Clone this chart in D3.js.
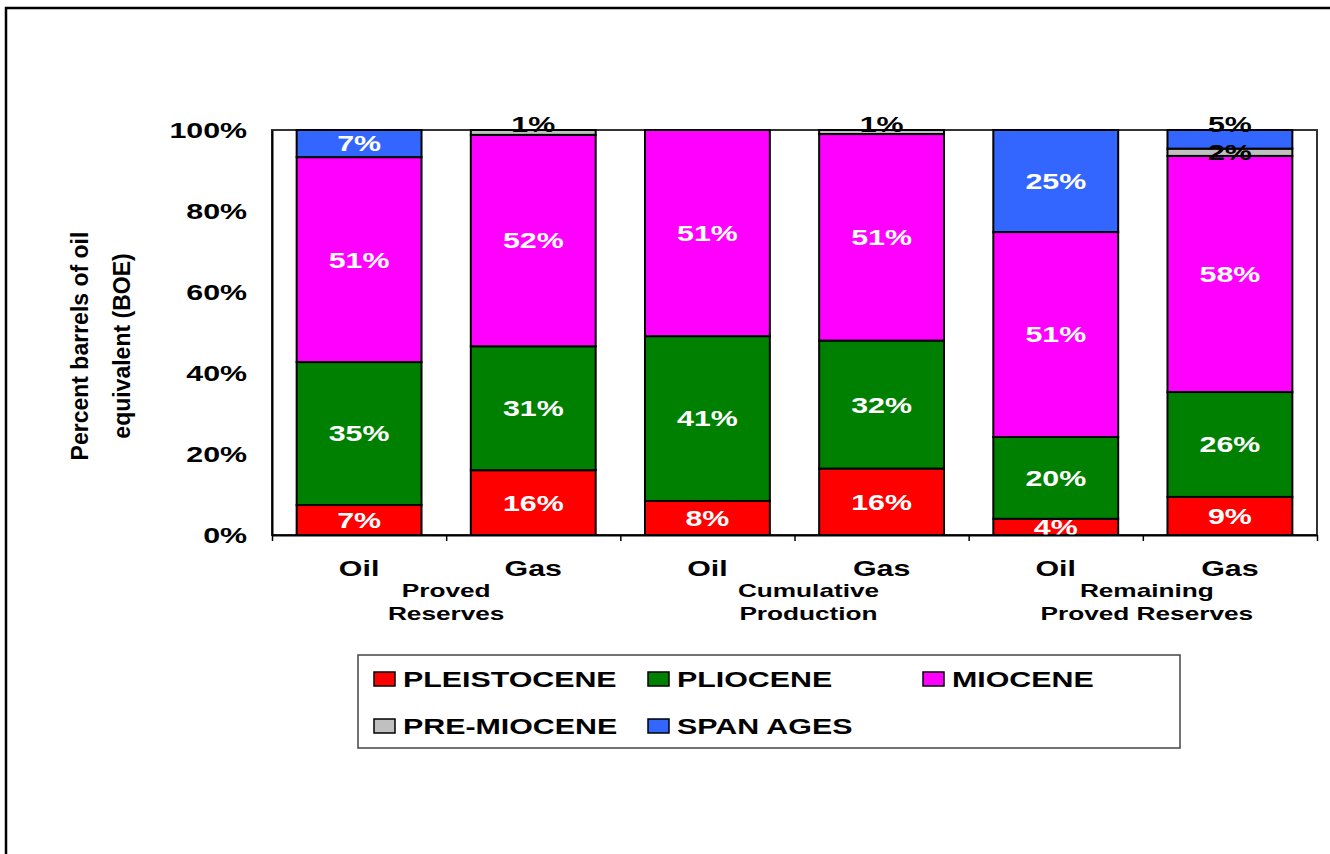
<!DOCTYPE html>
<html>
<head>
<meta charset="utf-8">
<script src="https://cdn.jsdelivr.net/npm/d3@7/dist/d3.min.js"></script>
<style>
  html, body { margin: 0; padding: 0; background: #fff; }
  svg { display: block; font-family: "Liberation Sans", Arial, sans-serif; }
</style>
</head>
<body>
<svg id="chart" width="1330" height="854"></svg>
<script>
// ---- data ----
const categories = ["Oil", "Gas", "Oil", "Gas", "Oil", "Gas"];
const groups = [["Proved", "Reserves"], ["Cumulative", "Production"], ["Remaining", "Proved Reserves"]];
const seriesNames = ["PLEISTOCENE", "PLIOCENE", "MIOCENE", "PRE-MIOCENE", "SPAN AGES"];
const pleistocene = [7.4, 16.0, 8.4, 16.4, 4.0, 9.4];
const pliocene    = [35.3, 30.6, 40.7, 31.6, 20.2, 25.9];
const miocene     = [50.6, 52.2, 50.9, 51.0, 50.6, 58.3];
const preMiocene  = [0, 1.2, 0, 1.0, 0, 1.8];
const spanAges    = [6.7, 0, 0, 0, 25.2, 4.6];
const yTicks = [0, 20, 40, 60, 80, 100];

const seriesValues = [pleistocene, pliocene, miocene, preMiocene, spanAges];
const colors = ["#FF0000", "#008000", "#FF00FF", "#C0C0C0", "#3366FF"];

// ---- layout ----
const SX = 1.38; // horizontal text stretch seen in the reference
const plot = { left: 272, right: 1317, top: 130, bottom: 535 };
const groupNudge = [0, 14, 4];
const svg = d3.select("#chart");

// outer frame
svg.append("rect").attr("x", 6).attr("y", 8).attr("width", 1340).attr("height", 870)
  .attr("fill", "none").attr("stroke", "#000").attr("stroke-width", 2.5);

const idx = d3.range(categories.length);
const x = d3.scaleBand().domain(idx).range([plot.left, plot.right])
  .paddingInner(0.283).paddingOuter(0.1415);
const xb = d3.scaleLinear().domain([0, categories.length]).range([plot.left, plot.right]);
const y = d3.scaleLinear().domain([0, 100]).range([plot.bottom, plot.top]);

// plot area border
svg.append("rect").attr("x", plot.left).attr("y", plot.top)
  .attr("width", plot.right - plot.left).attr("height", plot.bottom - plot.top)
  .attr("fill", "#fff").attr("stroke", "#333").attr("stroke-width", 2);

// stack
const rows = idx.map(i => {
  const o = { i };
  seriesNames.forEach((s, k) => o[s] = seriesValues[k][i]);
  return o;
});
const stacked = d3.stack().keys(seriesNames)(rows);

const barG = svg.append("g");
stacked.forEach((layer, k) => {
  barG.selectAll(null).data(layer.filter(d => d[1] - d[0] > 0)).enter()
    .append("rect")
    .attr("x", d => x(d.data.i))
    .attr("width", x.bandwidth())
    .attr("y", d => y(d[1]))
    .attr("height", d => y(d[0]) - y(d[1]))
    .attr("fill", colors[k])
    .attr("stroke", "#000").attr("stroke-width", 2);
});

// value labels
const labG = svg.append("g").attr("font-weight", "bold").attr("font-size", 22);
idx.forEach(i => {
  const segs = [];
  stacked.forEach((layer, k) => {
    const d = layer[i];
    if (d[1] - d[0] > 0) segs.push({ k, d, v: d[1] - d[0] });
  });
  segs.forEach((s, j) => {
    const top = j === segs.length - 1;
    const small = s.v <= 5 && s.k >= 3;
    const cx = x(i) + x.bandwidth() / 2;
    let cy, dy;
    if (small && top) { cy = y(s.d[1]) + 2; dy = "0"; }
    else { cy = (y(s.d[0]) + y(s.d[1])) / 2; dy = "0.36em"; }
    labG.append("text")
      .attr("transform", `translate(${cx},${cy}) scale(${SX},1)`)
      .attr("dy", dy)
      .attr("text-anchor", "middle")
      .attr("fill", small ? "#000" : "#fff")
      .text(Math.round(s.v) + "%");
  });
});

// y axis
const yAxisG = svg.append("g").attr("transform", `translate(${plot.left},0)`)
  .call(d3.axisLeft(y).tickValues(yTicks).tickFormat(d => d + "%").tickSize(0).tickPadding(0));
yAxisG.select(".domain").attr("stroke", "#000").attr("stroke-width", 2);
yAxisG.selectAll("text")
  .attr("x", 0).attr("dy", "0.36em")
  .attr("transform", `translate(-25,0) scale(${SX},1)`)
  .attr("font-size", 22).attr("font-weight", "bold").attr("fill", "#000")
  .attr("font-family", "Liberation Sans, Arial, sans-serif");

// x axis boundary ticks
const xAxisG = svg.append("g").attr("transform", `translate(0,${plot.bottom})`)
  .call(d3.axisBottom(xb).tickValues(d3.range(categories.length + 1)).tickFormat("").tickSize(6).tickSizeOuter(0));
xAxisG.select(".domain").attr("stroke", "#000").attr("stroke-width", 2);
xAxisG.selectAll(".tick line").attr("stroke", "#000").attr("stroke-width", 1.5);

// category labels
const catG = svg.append("g").attr("transform", `translate(0,${plot.bottom})`)
  .call(d3.axisBottom(x).tickFormat(i => categories[i]).tickSize(0));
catG.select(".domain").remove();
catG.selectAll("text")
  .attr("y", 0).attr("dy", 0)
  .attr("transform", `translate(0,41) scale(${SX},1)`)
  .attr("font-size", 22).attr("font-weight", "bold").attr("fill", "#000")
  .attr("font-family", "Liberation Sans, Arial, sans-serif");

// group labels
const grpG = svg.append("g").attr("font-weight", "bold").attr("font-size", 19);
groups.forEach((lines, g) => {
  const cx = xb(g * 2 + 1) + groupNudge[g];
  lines.forEach((t, li) => {
    grpG.append("text")
      .attr("transform", `translate(${cx},${597 + li * 23}) scale(${SX},1)`)
      .attr("text-anchor", "middle").attr("fill", "#000").text(t);
  });
});

// y title
const titleLines = ["Percent barrels of oil", "equivalent (BOE)"];
titleLines.forEach((t, li) => {
  svg.append("text")
    .attr("transform", `translate(${88 + li * 42},346) rotate(-90)`)
    .attr("text-anchor", "middle")
    .attr("font-size", 23).attr("font-weight", "bold")
    .attr("fill", "#000").text(t);
});

// legend
const leg = svg.append("g");
leg.append("rect").attr("x", 358).attr("y", 655).attr("width", 822).attr("height", 93)
  .attr("fill", "#fff").attr("stroke", "#444").attr("stroke-width", 1.5);
const legPos = [[374, 679], [648, 679], [923, 679], [374, 726], [648, 726]];
seriesNames.forEach((s, k) => {
  const [lx, ly] = legPos[k];
  leg.append("rect").attr("x", lx).attr("y", ly - 7).attr("width", 21).attr("height", 14)
    .attr("fill", colors[k]).attr("stroke", "#000").attr("stroke-width", 1.5);
  leg.append("text")
    .attr("transform", `translate(${lx + 29},${ly}) scale(${SX},1)`)
    .attr("dy", "0.36em")
    .attr("font-size", 22).attr("font-weight", "bold").attr("fill", "#000")
    .text(s);
});
</script>
</body>
</html>
